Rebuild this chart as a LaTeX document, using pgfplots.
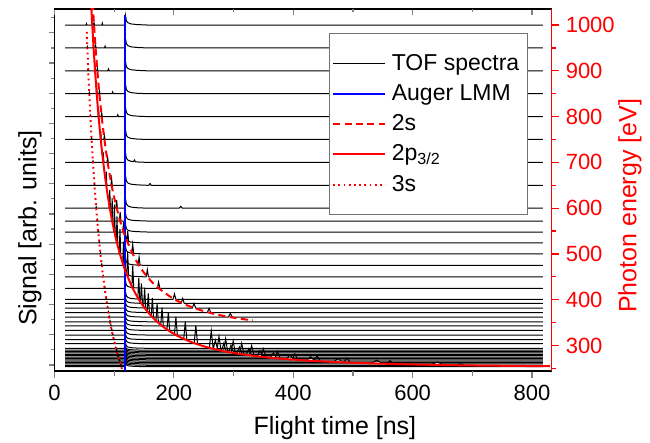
\documentclass[border=0pt]{standalone}
\usepackage{fontspec}
\setmainfont{Liberation Sans}
\usepackage{pgfplots}
\pgfplotsset{compat=1.18}
\definecolor{aug}{RGB}{0,0,255}
\definecolor{pe}{RGB}{255,0,0}
% one TOF trace: column 0 = flight time [ns], column 1 = signal; #1 = offset (photon energy of the trace)
\newcommand{\spec}[2]{\addplot[black, line width=0.5pt, mark=none, forget plot] table[row sep=\\, y expr=\thisrowno{1}+#1] {#2};}
\begin{document}
\begin{tikzpicture}
\pgfplotsset{
  base/.style={width=248.6pt, height=181pt, scale only axis, xmin=0, xmax=833,
    /pgf/number format/assume math mode=true, /pgf/number format/1000 sep={},
    tick label style={font=\fontsize{11}{13}\selectfont},
    label style={font=\fontsize{12.5}{15}\selectfont},
    axis line style={line width=0.6pt}, tick style={line width=0.6pt}},
}
% left (signal) axis
\begin{axis}[base, hide x axis, axis y line*=left, ymin=-0.2, ymax=11.79,
  ytick={0,...,11}, yticklabels={}, ytick pos=left,
  extra y ticks={0.5,1.5,...,11.5}, extra y tick labels={}, extra y tick style={major tick length=1.5pt},
  tick align=outside, major tick length=2.5pt,
  ylabel={Signal [arb. units]},
  ylabel style={at={(axis description cs:-0.0493,0.395)}, anchor=center}]
\end{axis}
% bottom axis
\begin{axis}[base, hide y axis, axis x line*=bottom, ymin=0, ymax=1,
  xtick={0,200,...,800}, xtick pos=left, xticklabel pos=left,
  extra x ticks={100,300,...,700}, extra x tick labels={}, extra x tick style={major tick length=2.3pt},
  tick align=outside, major tick length=3.5pt,
  xlabel={Flight time [ns]},
  xlabel style={at={(axis description cs:0.564,0)}, anchor=center, yshift=-28.5pt}]
\end{axis}
% top axis
\begin{axis}[base, hide y axis, axis x line*=top, ymin=0, ymax=1,
  xtick={0,200,...,800}, xtick pos=right, xticklabels={},
  extra x ticks={100,300,...,700}, extra x tick labels={}, extra x tick style={major tick length=1.75pt},
  tick align=inside, major tick length=3pt]
\end{axis}
% data axis with photon energy scale on the right
\begin{axis}[base, hide x axis, axis y line*=right, ymin=244.5, ymax=1035,
  ytick={300,400,...,1000}, ytick pos=right, yticklabel pos=right,
  extra y ticks={250,350,...,950}, extra y tick labels={}, extra y tick style={major tick length=2pt},
  tick align=outside, major tick length=3.5pt,
  axis line style={pe}, tick style={pe},
  yticklabel style={text=pe},
  ylabel={Photon energy [eV]},
  ylabel style={at={(axis description cs:1.1575,0.456)}, anchor=center, text=pe},
  no markers,
  legend cell align=left,
  legend image code/.code={\draw[#1] (0pt,0pt) -- (26pt,0pt);},
  legend style={at={(0.953,0.933)}, anchor=north east, draw=black!55, line width=0.5pt, fill=white,
    font=\fontsize{11.5}{13}\selectfont, inner xsep=1.5pt, inner ysep=7.5pt, nodes={inner sep=2.8pt}}]

\addlegendimage{black, line width=0.5pt}
\addlegendentry{TOF spectra}

\spec{1000}{18 0\\52.8 0\\53.6 3\\54.4 0\\62.5 0\\63.3 8\\64.1 0\\65.5 0\\66.3 5\\67.1 0\\79.3 0\\80.1 4\\80.9 0\\118.3 0\\119 20\\120.5 9\\123 5\\128 2.4\\138 1\\155 0\\818 0\\}
\spec{950}{18 0\\54.2 0\\55 3\\55.8 0\\64.7 0\\65.5 9\\66.3 0\\68.1 0\\68.9 5\\69.7 0\\83.8 0\\84.8 4\\85.8 0\\118.3 0\\119 20\\120.5 9\\123 5\\128 2.4\\138 1\\155 0\\818 0\\}
\spec{900}{18 0\\55.8 0\\56.6 3\\57.4 0\\67.2 0\\68 10\\68.8 0\\70.9 0\\71.8 6\\72.7 0\\89.3 0\\90.4 4\\91.5 0\\118.3 0\\119 20\\120.5 9\\123 5\\128 2.4\\138 1\\155 0\\818 0\\}
\spec{850}{18 0\\57.5 0\\58.3 3\\59.1 0\\69.85 0\\70.7 12\\71.55 0\\74.3 0\\75.2 7\\76.1 0\\96.1 0\\97.3 4\\98.5 0\\118.3 0\\119 20\\120.5 9\\123 5\\128 2.4\\138 1\\155 0\\818 0\\}
\spec{800}{18 0\\59.3 0\\60.1 3\\60.9 0\\73 0\\73.9 14\\74.8 0\\78.15 0\\79.1 8\\80.05 0\\104.7 0\\106 4\\107.3 0\\118.3 0\\119 20\\120.5 9\\123 5\\128 2.4\\138 1\\155 0\\818 0\\}
\spec{750}{18 0\\61.4 0\\62.2 3\\63 0\\76.6 0\\77.5 18\\78.4 0\\82.6 0\\83.6 9\\84.6 0\\118.3 0\\119 20\\120.5 9\\123 5\\128 2.4\\138 1\\155 0\\818 0\\}
\spec{700}{18 0\\63.7 0\\64.5 3\\65.3 0\\80.7 0\\81.7 22\\82.7 0\\88 0\\89.1 11\\90.2 0\\118.3 0\\119 20\\120.5 9\\123 5\\128 2.4\\132.4 1.8\\134 5.5\\135.6 1.3\\138 1\\155 0\\818 0\\}
\spec{650}{18 0\\66.2 0\\67 3\\67.8 0\\85.7 0\\86.7 30\\87.7 0\\94.6 0\\95.7 14\\96.8 0\\118.3 0\\119 20\\120.5 9\\123 5\\128 2.4\\138 1\\155 0\\158.2 0\\160.1 4\\162 0\\818 0\\}
\spec{600}{18 0\\69.1 0\\69.9 3\\70.7 0\\91.5 0\\92.6 40\\93.7 0\\102.85 0\\104.1 18\\105.35 0\\118.3 0\\119 20\\120.5 9\\123 5\\128 2.4\\138 1\\155 0\\209.1 0\\211.6 4\\214.1 0\\818 0\\}
\spec{572}{18 0\\70.9 0\\71.7 3\\72.5 0\\95.45 0\\96.6 50\\97.75 0\\108.7 0\\110 20\\111.3 0\\118.3 0\\119 16\\120.5 7.2\\123 4\\128 1.9\\138 0.8\\155 0\\818 0\\}
\spec{548}{18 0\\72.5 0\\73.3 3\\74.1 0\\99.2 0\\100.4 60\\101.6 0\\114.4 0\\115.8 22\\117.2 0\\118.3 0\\119 16\\120.5 7.2\\123 4\\128 1.9\\138 0.8\\155 0\\818 0\\}
\spec{524}{18 0\\74.3 0\\75.1 3\\75.9 0\\103.45 0\\104.7 58\\105.95 0\\118.3 0\\119 16\\120.5 7.2\\121.2 5.3\\122.7 26\\124.2 3.5\\128 1.9\\138 0.8\\155 0\\818 0\\}
\spec{500}{18 0\\76.2 0\\77 3\\77.8 0\\108.4 0\\109.7 55\\111 0\\118.3 0\\119 16\\120.5 7.2\\123 4\\128 1.9\\129.4 1.7\\131 21.5\\132.6 1.4\\138 0.8\\155 0\\818 0\\}
\spec{475}{18 0\\78.3 0\\79.1 3\\79.9 0\\114.2 0\\115.6 52\\117 0\\118.3 0\\119 16\\120.5 7.2\\123 4\\128 1.9\\138 0.8\\140 0.7\\141.7 18.6\\143.4 0.6\\155 0\\818 0\\}
\spec{450}{18 0\\80.7 0\\81.5 3\\82.3 0\\118.3 0\\119 16\\120.5 7.2\\121.1 5.5\\122.6 54\\124.1 3.6\\128 1.9\\138 0.8\\153.6 0\\155.5 16\\157.4 0\\818 0\\}
\spec{425}{18 0\\83.2 0\\84 3\\84.8 0\\118.3 0\\119 16\\120.5 7.2\\123 4\\128 1.9\\129.5 1.7\\131.1 49.6\\132.7 1.4\\138 0.8\\155 0\\172.3 0\\174.4 14\\176.5 0\\818 0\\}
\spec{401}{18 0\\85.9 0\\86.7 3\\87.5 0\\118.3 0\\119 16\\120.5 7.2\\123 4\\128 1.9\\138 0.8\\139.5 0.7\\141.2 46.6\\142.9 0.6\\155 0\\198.6 0\\201 12\\203.4 0\\818 0\\}
\spec{392}{18 0\\87 0\\87.8 2.5\\88.6 0\\118.3 0\\119 12\\120.5 5.4\\123 3\\128 1.4\\138 0.6\\143.85 0.3\\145.6 44\\147.35 0.2\\155 0\\212.1 0\\214.7 11\\217.3 0\\818 0\\}
\spec{382}{18 0\\88.2 0\\89 2.5\\89.8 0\\118.3 0\\119 12\\120.5 5.4\\123 3\\128 1.4\\138 0.6\\149.2 0.2\\151 44\\152.8 0.1\\155 0\\230.9 0\\233.7 10\\236.5 0\\818 0\\}
\spec{372}{18 0\\89.5 0\\90.3 2.5\\91.1 0\\118.3 0\\119 12\\120.5 5.4\\123 3\\128 1.4\\138 0.6\\155 0\\155.2 0\\157.1 42\\159 0\\255.8 0\\258.9 9\\262 0\\818 0\\}
\spec{362}{18 0\\90.8 0\\91.6 2.5\\92.4 0\\118.3 0\\119 12\\120.5 5.4\\123 3\\128 1.4\\138 0.6\\155 0\\162 0\\164 42\\166 0\\291.1 0\\294.6 8\\298.1 0\\818 0\\}
\spec{352}{18 0\\92.3 0\\93.1 2.5\\93.9 0\\118.3 0\\119 12\\120.5 5.4\\123 3\\128 1.4\\138 0.6\\155 0\\169.8 0\\171.9 40\\174 0\\818 0\\}
\spec{343}{18 0\\93.6 0\\94.4 2.5\\95.2 0\\118.3 0\\119 12\\120.5 5.4\\123 3\\128 1.4\\138 0.6\\155 0\\177.9 0\\180.1 40\\182.3 0\\818 0\\}
\spec{333}{18 0\\95.1 0\\95.9 2.5\\96.7 0\\118.3 0\\119 12\\120.5 5.4\\123 3\\128 1.4\\138 0.6\\155 0\\188.4 0\\190.7 40\\193 0\\818 0\\}
\spec{323}{18 0\\96.8 0\\97.6 2.5\\98.4 0\\118.3 0\\119 12\\120.5 5.4\\123 3\\128 1.4\\138 0.6\\155 0\\201 0\\203.4 40\\205.8 0\\818 0\\}
\spec{313}{18 0\\98.5 0\\99.3 2.5\\100.1 0\\118.3 0\\119 12\\120.5 5.4\\123 3\\128 1.4\\138 0.6\\155 0\\216.5 0\\219.1 40\\221.7 0\\818 0\\}
\spec{304}{18 0\\100.1 0\\100.9 2.5\\101.7 0\\118.3 0\\119 12\\120.5 5.4\\123 3\\128 1.4\\138 0.6\\155 0\\234 0\\236.8 40\\239.6 0\\818 0\\}
\spec{294}{18 0\\101.8 0\\102.8 2.5\\103.8 0\\118.3 0\\119 12\\120.5 5.4\\123 3\\128 1.4\\138 0.6\\155 0\\259.4 0\\262.6 38\\265.8 0\\266.3 0\\269.5 18\\272.7 0\\818 0\\}
\spec{290}{18 0\\102.6 0\\103.6 2.5\\104.6 0\\118.3 0\\119 8\\120.5 3.6\\123 2\\128 1\\138 0.4\\155 0\\272.3 0\\275.6 30\\278.9 0\\280.2 0\\283.6 15\\287 0\\818 0\\}
\spec{287}{18 0\\103.2 0\\104.2 2.5\\105.2 0\\118.3 0\\119 8\\120.5 3.6\\123 2\\128 1\\138 0.4\\155 0\\283.3 0\\286.7 28\\290.1 0\\292.2 0\\295.7 14\\299.2 0\\818 0\\}
\spec{284}{18 0\\103.8 0\\104.8 2.5\\105.8 0\\118.3 0\\119 8\\120.5 3.6\\123 2\\128 1\\138 0.4\\155 0\\295.7 0\\299.3 26\\302.9 0\\305.9 0\\309.6 13\\313.3 0\\818 0\\}
\spec{281}{18 0\\104.5 0\\105.5 2.5\\106.5 0\\118.3 0\\119 8\\120.5 3.6\\123 2\\128 1\\138 0.4\\155 0\\309.8 0\\313.6 24\\317.4 0\\321.7 0\\325.6 12\\329.5 0\\818 0\\}
\spec{278}{18 0\\105.1 0\\106.1 2.5\\107.1 0\\118.3 0\\119 8\\120.5 3.6\\123 2\\128 1\\138 0.4\\155 0\\326.3 0\\330.3 22\\334.3 0\\340.2 0\\344.3 11\\348.4 0\\818 0\\}
\spec{275}{18 0\\105.7 0\\106.7 2.5\\107.7 0\\118.3 0\\119 8\\120.5 3.6\\123 2\\128 1\\138 0.4\\155 0\\345.7 0\\349.9 18\\354.1 0\\362.4 0\\366.8 9\\371.2 0\\818 0\\}
\spec{272}{18 0\\106.4 0\\107.4 2.5\\108.4 0\\118.3 0\\119 8\\120.5 3.6\\123 2\\128 1\\138 0.4\\155 0\\369 0\\373.5 15\\378 0\\389.6 0\\394.3 8\\399 0\\818 0\\}
\spec{269}{18 0\\107.1 0\\108.1 2.5\\109.1 0\\118.3 0\\119 8\\120.5 3.6\\123 2\\128 1\\138 0.4\\155 0\\397.9 0\\402.7 13\\407.5 0\\423.9 0\\429 7\\434.1 0\\818 0\\}
\spec{266}{18 0\\107.8 0\\108.8 2.5\\109.8 0\\118.3 0\\119 8\\120.5 3.6\\123 2\\128 1\\138 0.4\\155 0\\434.6 0\\439.9 12\\445.2 0\\469.2 0\\474.9 6\\480.6 0\\818 0\\}
\spec{263}{18 0\\108.5 0\\109.5 2.5\\110.5 0\\118.3 0\\119 8\\120.5 3.6\\123 2\\128 1\\138 0.4\\155 0\\484 0\\489.9 10\\495.8 0\\533.2 0\\539.7 5\\546.2 0\\818 0\\}
\spec{260}{18 0\\109.2 0\\110.2 2.5\\111.2 0\\118.3 0\\119 8\\120.5 3.6\\123 2\\128 1\\138 0.4\\155 0\\555.3 0\\562 7\\568.7 0\\633.4 0\\641.1 4\\648.8 0\\818 0\\}
\spec{257}{18 0\\109.9 0\\110.9 2.5\\111.9 0\\118.3 0\\119 8\\120.5 3.6\\123 2\\128 1\\138 0.4\\155 0\\671.2 0\\679.4 3\\687.6 0\\818 0\\}
\spec{254}{18 0\\110.7 0\\111.7 2\\112.7 0\\118.3 0\\119 8\\120.5 3.6\\123 2\\128 1\\138 0.4\\155 0\\818 0\\}

\addplot[aug, line width=0.9pt] coordinates {(118.7,1022) (118.7,244.5)};
\addlegendentry{Auger LMM}

\addplot[pe, line width=1pt, dash pattern=on 3.5pt off 2.2pt, smooth] coordinates {
(64,1048) (66,1005.2) (70,930.0) (75,852.4) (80,788.9) (85,736.3) (90,692.2) (95,654.9)
(100,623.0) (110,571.8) (120,532.9) (135,489.9) (150,459.1) (170,430.1) (200,401.8)
(230,383.8) (260,371.6) (290,363.1) (332,354.8)};
\addlegendentry{2s}

\addplot[pe, line width=1pt, smooth] coordinates {
(60,1083.8) (61,1056.7) (62,1030.9) (65,960.6) (67,918.8) (70,862.7) (72.5,821.2) (75,783.8)
(77.5,750.0) (80,719.3) (85,665.7) (90,620.9) (95,582.9) (100,550.5) (105,522.6) (110,498.4)
(115,477.3) (120,458.8) (130,428.0) (140,403.6) (150,383.8) (165,360.7) (180,343.1)
(200,325.5) (225,309.8) (250,298.5) (275,290.2) (300,283.8) (350,275.0) (400,269.3)
(450,265.3) (500,262.5) (600,258.8) (700,256.6) (830,254.9)};
\addlegendentry{2p\textsubscript{3/2}}

\addplot[pe, line width=1pt, dash pattern=on 0.9pt off 1.7pt, smooth] coordinates {
(54.0,985) (55.0,950) (56.6,900) (58.3,850) (60.1,800) (62.2,750) (64.5,700) (67.0,650)
(69.9,600) (73.3,548) (77.0,500) (81.5,450) (86.7,401) (91.6,362) (95.9,333) (100.9,304)
(104.8,284) (108.1,269) (111.7,254) (114.0,245)};
\addlegendentry{3s}
\end{axis}
\pgfresetboundingbox
\path (-27.25pt,-36pt) rectangle (297.75pt,185.5pt);
\end{tikzpicture}
\end{document}
